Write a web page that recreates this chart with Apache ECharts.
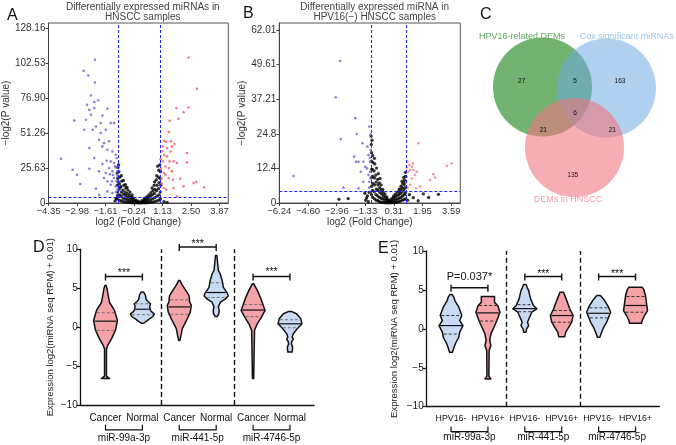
<!DOCTYPE html>
<html><head><meta charset="utf-8">
<script src="https://cdn.jsdelivr.net/npm/echarts@6/dist/echarts.min.js"></script>
<style>html,body{margin:0;padding:0;background:#fff}#c{width:676px;height:445px}</style>
</head><body><div id="c"></div>
<script>
// ---------- Panel A: volcano, HNSCC ----------
const xTicksA = [-4.35, -2.98, -1.61, -0.24, 1.13, 2.50, 3.87];
const xTickLabelsA = ['−4.35', '−2.98', '−1.61', '−0.24', '1.13', '2.50', '3.87'];
const yTicksA = [0, 25.63, 51.26, 76.90, 102.53, 128.16];
const yTickLabelsA = ['0', '25.63', '51.26', '76.90', '102.53', '128.16'];
const downA = [[-2.12,105],[-2.66,96.9],[-2.44,93.5],[-2.12,88.4],[-3.11,60.5],[-2.31,78.8],[-1.96,75.4],[-2.50,72.0],[-2.15,74.0],[-2.39,68.3],[-2.15,69.6],[-1.52,69.1],[-1.76,64.2],[-1.36,58.6],[-1.20,58.6],[-2.23,53.7],[-2.07,56.1],[-1.84,51.3],[-1.60,53.7],[-1.92,46.4],[-1.68,43.9],[-1.44,45.2],[-1.76,41.5],[-1.52,39.0],[-1.28,37.8],[-1.12,35.4],[-2.15,33.0],[-2.39,40.3],[-3.75,32.5],[-3.19,24.4],[-2.98,20.7],[-2.82,13.9],[-2.07,10.5],[-2.39,25.1],[-1.92,23.2],[-1.76,28.6],[-1.55,31.0],[-1.36,30.5],[-1.20,29.3],[-1.44,25.6],[-1.28,23.2],[-1.12,26.1],[-1.68,18.3],[-1.52,15.9],[-1.36,13.4],[-1.20,18.3],[-1.12,12.2],[-1.07,33.0],[-1.04,23.2],[-1.92,6.1],[-1.52,8.5],[-1.28,7.3],[-2.55,61.0],[-2.31,64.7],[-2.63,53.7],[-1.84,58.6],[-1.05,20],[-1.08,16],[-1.03,10],[-1.1,8],[-1.15,27],[-1.25,20.5],[-1.4,21],[-1.6,22],[-1.3,16]];
const upA = [[2.38,106.7],[2.78,83.7],[2.38,70.0],[2.14,66.6],[1.79,69.6],[1.47,60.3],[1.90,61.8],[1.43,52.0],[1.22,45.6],[1.31,44.7],[1.54,45.2],[1.70,43.2],[1.15,41.5],[1.35,40.3],[1.51,37.8],[1.58,41.5],[1.22,35.4],[1.35,34.2],[1.47,30.5],[1.66,30.5],[1.82,29.3],[1.15,30.5],[1.27,26.8],[1.43,25.6],[1.58,23.2],[2.30,36.6],[2.30,29.8],[1.27,20.7],[1.43,18.3],[1.63,17.1],[1.98,17.8],[2.62,14.6],[2.75,15.4],[3.13,11.5],[2.14,12.2],[1.66,11.0],[1.31,9.8],[1.19,11.0],[1.82,4.9],[1.05,25],[1.08,18],[1.1,14],[1.04,32],[1.12,38],[1.2,22]];
const nsA = [[-1.05,3],[-1.03,8],[-1.04,13],[-1.02,18],[-1.05,22],[-1.01,26],[-1.03,5.5],[-1.0,15.5],
[-0.95,2],[-0.93,6],[-0.96,10],[-0.94,14],[-0.92,19],[-0.97,23],[-0.9,11.5],
[-0.85,1.5],[-0.86,5],[-0.84,8],[-0.87,12],[-0.83,16],[-0.85,20],
[-0.75,1],[-0.76,3.5],[-0.74,6.5],[-0.77,9.5],[-0.73,13],[-0.75,16.5],
[-0.65,0.8],[-0.66,3],[-0.64,5.5],[-0.67,8],[-0.63,11],[-0.65,13.5],
[-0.55,0.5],[-0.56,2.5],[-0.54,4.5],[-0.57,7],[-0.53,9.5],[-0.58,11.5],
[-0.45,0.4],[-0.46,2],[-0.44,4],[-0.47,6],[-0.43,8],
[-0.35,0.2],[-0.36,1.5],[-0.34,3],[-0.37,4.5],[-0.33,6],
[-0.25,0.1],[-0.26,1.2],[-0.24,2.5],[-0.27,3.8],
[-0.15,0.1],[-0.16,1],[-0.14,2],
[-0.05,0.05],[-0.06,0.7],[-0.04,1.3],
[0.05,0.05],[0.06,0.6],
[0.15,0.1],[0.16,0.9],[0.14,1.7],
[0.25,0.1],[0.26,1.2],[0.24,2.5],[0.27,3.5],
[0.35,0.2],[0.36,1.5],[0.34,3],[0.37,4.5],
[0.45,0.3],[0.46,2],[0.44,4],[0.47,6],
[0.55,0.5],[0.56,2.5],[0.54,5],[0.57,7.5],
[0.65,0.7],[0.66,3],[0.64,6],[0.67,9],[0.63,11],
[0.75,1],[0.76,4],[0.74,7],[0.77,10],[0.73,13],[0.75,15.5],
[0.85,1.5],[0.86,5],[0.84,9],[0.87,13],[0.83,17],[0.85,20],
[0.95,2],[0.96,6],[0.94,10.5],[0.97,15],[0.93,19],[0.95,24],
[1.03,3],[1.02,8],[1.04,13],[1.01,18],[1.03,23],[1.0,28],
[1.2,1],[1.35,0.5],[-1.15,1.5],[-1.1,3.5],[0.9,27],[-0.98,28]];

// ---------- Panel B: volcano, HPV16(-) ----------
const xTicksB = [-6.24, -4.60, -2.96, -1.33, 0.31, 1.95, 3.59];
const xTickLabelsB = ['−6.24', '−4.60', '−2.96', '−1.33', '0.31', '1.95', '3.59'];
const yTicksB = [0, 12.4, 24.8, 37.21, 49.61, 62.01];
const yTickLabelsB = ['0', '12.4', '24.8', '37.21', '49.61', '62.01'];
const downB = [[-2.76,50.9],[-3.01,37.9],[-2.72,22.9],[-1.89,30.4],[-1.81,24.7],[-1.49,21.4],[-1.09,27.4],[-5.43,9.7],[-1.96,16.6],[-1.85,14.8],[-1.71,14.8],[-1.43,14.8],[-1.33,13.0],[-1.23,12.4],[-1.14,17.2],[-1.20,20.2],[-1.58,11.2],[-2.57,5.5],[-1.71,5.3],[-1.14,10.0],[-1.09,7.6],[-1.43,7.6],[-1.05,11.2],[-1.05,14.8],[-1.01,19.0],[-1.03,24.5],[-1.06,16.2],[-1.1,5.5],[-1.02,9]];
const upB = [[1.71,21.4],[1.09,14.8],[1.20,13.6],[1.34,13.0],[1.05,12.7],[1.39,14.2],[1.14,11.2],[1.24,11.8],[1.43,11.8],[1.62,11.2],[1.53,10.0],[1.05,9.4],[1.34,8.8],[2.57,10.3],[2.67,9.1],[2.38,8.2],[1.24,6.5],[1.81,5.9],[1.58,5.3],[3.34,13.3],[3.62,14.2],[1.02,7.5],[1.1,5.5]];
const nsB = [[-0.97,3],[-0.96,6],[-0.98,9],[-0.95,12],[-0.97,15],[-0.96,18],[-0.98,21],
[-0.9,2],[-0.91,4.5],[-0.89,7],[-0.9,9.5],[-0.92,12],[-0.88,14.5],[-0.9,17],
[-0.8,1.5],[-0.81,4],[-0.79,6.5],[-0.8,9],[-0.82,11.5],[-0.78,14],[-0.8,16],
[-0.7,1],[-0.71,3],[-0.69,5],[-0.7,7.5],[-0.72,10],[-0.68,12.5],
[-0.6,0.8],[-0.61,2.5],[-0.59,4.5],[-0.6,6.5],[-0.62,8.5],[-0.58,10.5],
[-0.5,0.5],[-0.51,2],[-0.49,3.8],[-0.5,5.5],[-0.52,7.2],[-0.48,8.8],
[-0.4,0.3],[-0.41,1.7],[-0.39,3.2],[-0.4,4.8],[-0.42,6.5],
[-0.3,0.2],[-0.31,1.4],[-0.29,2.6],[-0.3,3.8],[-0.32,4.8],
[-0.2,0.1],[-0.21,1.1],[-0.19,2.1],[-0.2,3.2],
[-0.1,0.05],[-0.11,0.8],[-0.09,1.6],[-0.1,2.2],
[0,0.05],[0.01,0.6],[-0.01,1.1],
[0.1,0.05],[0.11,0.6],[0.09,1.0],
[0.2,0.1],[0.21,0.8],[0.19,1.6],
[0.3,0.1],[0.31,1.0],[0.29,1.9],[0.3,2.5],
[0.4,0.2],[0.41,1.2],[0.39,2.2],[0.4,3.2],
[0.5,0.3],[0.51,1.4],[0.49,2.6],[0.5,3.9],
[0.6,0.5],[0.61,1.7],[0.59,3],[0.6,4.2],[0.62,5],
[0.7,0.7],[0.71,2],[0.69,3.4],[0.7,4.8],[0.72,6],
[0.8,1],[0.81,2.5],[0.79,4],[0.8,5.5],[0.82,7],[0.78,7.8],
[0.9,1.2],[0.91,3],[0.89,4.8],[0.9,6.6],[0.92,8.2],[0.88,9.2],
[0.97,1.5],[0.96,3.5],[0.98,5.5],[0.97,7.5],[0.96,9.5],[0.98,11],
[-0.99,24],[-0.94,22.5],
[-1.3,1],[-1.2,2.5],[-1.35,3.5],[-1.15,0.5],[-1.25,1.8],[-1.1,3.8],[-2.83,1.3],[-2.3,1.6],
[1.42,1.9],[2.0,3.3],[2.86,3.1],[1.7,0.8],[2.3,2],[1.2,3],[1.1,1]];
const fcCut = 1;
const pCut = 4.32;

// ---------- Panel C: Venn ----------
const vennSets = ['HPV16-related DEMs', 'Cox significant miRNAs', 'DEMs in HNSCC'];
// regions: HPV only, HPV∩Cox, Cox only, all three, HPV∩HNSCC, Cox∩HNSCC, HNSCC only
const vennCounts = [27, 5, 163, 6, 21, 21, 135];

// ---------- Panel D: violins, Cancer vs Normal ----------
const dCats = ['Cancer', 'Normal', 'Cancer', 'Normal', 'Cancer', 'Normal'];
const dGroups = ['miR-99a-3p', 'miR-441-5p', 'miR-4746-5p'];
const dSig = ['***', '***', '***'];
// density outline per violin: [value, relative half-width]
const dProfiles = [
  [[-6.6,0.35],[-6.3,0.08],[-2.8,0.08],[-2.3,0.2],[-1.5,0.5],[-0.4,0.83],[0.86,1.0],[2.15,0.75],[3.2,0.33],[4.3,0.2],[5.0,0.12],[5.36,0.05]],
  [[0.5,0.1],[0.9,0.45],[1.4,0.9],[1.7,1.0],[2.0,0.75],[2.3,0.62],[2.7,0.62],[3.0,0.68],[3.3,0.45],[3.6,0.3],[4.1,0.25],[4.5,0.1]],
  [[-1.7,0.05],[-1.0,0.15],[-0.2,0.25],[0.86,0.6],[1.93,0.92],[2.79,1.0],[3.3,0.85],[3.65,0.85],[4.07,0.8],[4.7,0.55],[5.4,0.25],[6.0,0.05]],
  [[1.37,0.08],[1.7,0.22],[2.15,0.25],[2.6,0.18],[3.2,0.35],[3.6,0.75],[4.0,1.0],[4.3,0.95],[5.1,0.6],[6.0,0.5],[6.86,0.33],[7.3,0.18],[8.2,0.12],[9.2,0.06]],
  [[-6.6,0.05],[-0.4,0.12],[0.43,0.35],[1.29,0.7],[2.15,1.0],[3.0,0.8],[3.86,0.6],[4.72,0.35],[5.58,0.05]],
  [[-3.2,0.18],[-2.57,0.22],[-2.2,0.12],[-1.93,0.13],[-1.5,0.28],[-1.29,0.18],[-0.86,0.27],[-0.21,0.6],[0.43,1.0],[1.07,0.9],[1.72,0.55],[2.02,0.1]]
];
// [lower quartile, median, upper quartile]
const dStats = [[-0.42,0.77,1.85],[1.6,2.3,3.0],[1.65,2.6,3.5],[3.8,4.45,5.7],[1.35,2.2,2.9],[-0.08,0.43,0.95]];

// ---------- Panel E: violins, HPV16- vs HPV16+ ----------
const eCats = ['HPV16-', 'HPV16+', 'HPV16-', 'HPV16+', 'HPV16-', 'HPV16+'];
const eGroups = ['miR-99a-3p', 'miR-441-5p', 'miR-4746-5p'];
const eSig = ['P=0.037*', '***', '***'];
const eProfiles = [
  [[-3.0,0.12],[-2.36,0.25],[-1.72,0.42],[-1.08,0.65],[-0.43,0.72],[0.42,1.0],[1.07,0.72],[1.71,0.9],[2.78,0.65],[3.64,0.32],[4.0,0.25],[4.41,0.1]],
  [[-6.43,0.25],[-6.1,0.08],[-2.79,0.1],[-2.14,0.25],[-1.5,0.15],[-0.64,0.25],[0.2,0.5],[1.07,0.75],[2.14,1.0],[3.0,0.82],[3.4,0.55],[3.7,0.55],[4.15,0.55]],
  [[-0.43,0.1],[0,0.15],[0.42,0.32],[0.85,0.22],[1.49,0.4],[2.14,0.58],[2.57,1.0],[3.0,0.72],[3.85,0.48],[4.92,0.32],[5.3,0.2],[5.69,0.1]],
  [[-1.0,0.25],[-0.43,0.33],[0.2,0.58],[0.85,0.83],[1.71,0.95],[2.57,0.67],[3.64,0.42],[4.3,0.25],[4.7,0.15]],
  [[-1.08,0.1],[-0.43,0.25],[0.2,0.42],[0.85,0.67],[1.49,0.83],[2.14,1.0],[2.78,0.83],[3.64,0.5],[4.28,0.15]],
  [[0.72,0.5],[1.07,0.55],[1.71,0.75],[2.35,1.0],[3.21,0.92],[4.28,0.83],[5.0,0.7],[5.35,0.55]]
];
const eStats = [[-0.67,0.42,1.71],[1.0,2.05,3.0],[2.2,2.6,3.1],[0.85,1.71,2.35],[1.41,2.0,2.7],[2.14,3.0,4.15]];

// ================= rendering =================
const FONT = '"Liberation Sans", Arial, Helvetica, sans-serif';
const PINK = '#f4a3a8', BLUE = '#c9dbf4';
const lab = (vals, labels) => v => { const i = vals.findIndex(t => Math.abs(t - v) < 1e-6); return i >= 0 ? labels[i] : ''; };
const minus = v => String(v).replace('-', '−');

function volcanoAxes(grid, xmin, xmax, xt, xl, ymax, yt, yl, nameGapY) {
  const axisCol = '#444';
  return {
    x: { type: 'value', gridIndex: grid, min: xmin, max: xmax, name: 'log2 (Fold Change)', nameLocation: 'middle', nameGap: 13,
         nameTextStyle: { fontFamily: FONT, fontSize: 10, color: '#333' },
         axisLine: { show: true, onZero: false, lineStyle: { color: axisCol, width: 1 } },
         axisTick: { show: true, length: 3, customValues: xt, lineStyle: { color: axisCol } },
         axisLabel: { customValues: xt, formatter: lab(xt, xl), fontFamily: FONT, fontSize: 9.5, color: '#333', margin: 3 },
         splitLine: { show: false } },
    y: { type: 'value', gridIndex: grid, min: 0, max: ymax, name: '−log2(P value)', nameLocation: 'middle', nameGap: nameGapY,
         nameTextStyle: { fontFamily: FONT, fontSize: 10, color: '#333' },
         axisLine: { show: true, onZero: false, lineStyle: { color: axisCol, width: 1 } },
         axisTick: { show: true, length: 3, customValues: yt, lineStyle: { color: axisCol } },
         axisLabel: { customValues: yt, formatter: lab(yt, yl), fontFamily: FONT, fontSize: 10, color: '#333', margin: 3 },
         splitLine: { show: false } }
  };
}
const vA = volcanoAxes(0, -4.35, 4.29, xTicksA, xTickLabelsA, 132, yTicksA, yTickLabelsA, 25);
const vB = volcanoAxes(1, -6.24, 4.11, xTicksB, xTickLabelsB, 64.5, yTicksB, yTickLabelsB, 20);

function violinAxes(grid, xmin, xmax, cats, groups, nameGap, catMargin, grpMargin, catFont) {
  const cv = cats.map((c, i) => i + 1);
  const gv = groups.map((g, i) => 2 * i + 1.5);
  return {
    x: { type: 'value', gridIndex: grid, min: xmin, max: xmax, position: 'bottom',
         axisLine: { show: true, onZero: false, lineStyle: { color: '#111', width: 1.3 } },
         axisTick: { show: false },
         axisLabel: { customValues: cv, formatter: lab(cv, cats), fontFamily: FONT, fontSize: catFont, color: '#111', margin: catMargin, hideOverlap: false },
         splitLine: { show: false } },
    x2: { type: 'value', gridIndex: grid, min: xmin, max: xmax, position: 'bottom', offset: 0,
         axisLine: { show: false, onZero: false }, axisTick: { show: false },
         axisLabel: { customValues: gv, formatter: lab(gv, groups), fontFamily: FONT, fontSize: 10, color: '#111', margin: grpMargin },
         splitLine: { show: false } },
    y: { type: 'value', gridIndex: grid, min: -10, max: 10, interval: 5,
         name: 'Expression log2(miRNA seq RPM) + 0.01)', nameLocation: 'middle', nameGap: nameGap,
         nameTextStyle: { fontFamily: FONT, fontSize: 9.5, color: '#222' },
         axisLine: { show: true, onZero: false, lineStyle: { color: '#111', width: 1.3 } },
         axisTick: { show: true, length: 4, lineStyle: { color: '#111', width: 1.2 } },
         axisLabel: { formatter: minus, fontFamily: FONT, fontSize: 10, color: '#222', margin: 3 },
         splitLine: { show: false } }
  };
}
const aD = violinAxes(2, 0.328, 6.651, dCats, dGroups, 25, 8, 28, 10);
const aE = violinAxes(3, 0.341, 6.644, eCats, eGroups, 27, 7, 26, 8.8);

function interp(prof, y) {
  if (y <= prof[0][0]) return prof[0][1];
  for (let k = 1; k < prof.length; k++) {
    if (y <= prof[k][0]) { const [y0, d0] = prof[k - 1], [y1, d1] = prof[k]; return d0 + (d1 - d0) * (y - y0) / (y1 - y0); }
  }
  return prof[prof.length - 1][1];
}
const W = 0.325;
function violinRender(profiles, stats, fills, dashCol) {
  return (params, api) => {
    const x = api.value(0), i = api.value(1);
    const prof = profiles[i];
    const right = prof.map(([y, d]) => api.coord([x + d * W, y]));
    const left = prof.slice().reverse().map(([y, d]) => api.coord([x - d * W, y]));
    const children = [{ type: 'polygon', shape: { points: right.concat(left) },
      style: { fill: fills[i], stroke: '#111', lineWidth: 1.5, lineJoin: 'round' } }];
    const [q1, med, q3] = stats[i];
    [[q1, true], [med, false], [q3, true]].forEach(([y, dash]) => {
      const d = interp(prof, y);
      const p1 = api.coord([x - d * W, y]), p2 = api.coord([x + d * W, y]);
      children.push({ type: 'line', shape: { x1: p1[0] + 1, y1: p1[1], x2: p2[0] - 1, y2: p2[1] },
        style: { stroke: dash ? dashCol : '#111', lineWidth: dash ? 0.9 : 1.2, lineDash: dash ? [3, 2] : null } });
    });
    return { type: 'group', children };
  };
}
// annotation layout (positions in data units of the violin axes)
function annotRender(sigs, barY, textY) {
  return (params, api) => {
    const g = api.value(0);
    const xa = 2 * g + 1, xb = 2 * g + 2;
    const st = { stroke: '#111', lineWidth: 1.4 };
    const pa = api.coord([xa, barY[g]]), pb = api.coord([xb, barY[g]]);
    const up = 3, dn = 4;
    const ch = [
      { type: 'line', shape: { x1: pa[0], y1: pa[1], x2: pb[0], y2: pb[1] }, style: st },
      { type: 'line', shape: { x1: pa[0], y1: pa[1] - up, x2: pa[0], y2: pa[1] + dn }, style: st },
      { type: 'line', shape: { x1: pb[0], y1: pb[1] - up, x2: pb[0], y2: pb[1] + dn }, style: st }
    ];
    const pt = api.coord([(xa + xb) / 2, textY[g]]);
    ch.push({ type: 'text', x: pt[0], y: pt[1], style: { text: sigs[g], fontFamily: FONT, fontSize: sigs[g].length > 3 ? 11 : 10.5, fill: '#111', align: 'center', verticalAlign: 'middle' } });
    // bracket under the category pair
    const u1 = api.coord([xa, -12.55]), u2 = api.coord([xa, -13.2]), u3 = api.coord([xb, -13.2]), u4 = api.coord([xb, -12.55]);
    ch.push({ type: 'polyline', shape: { points: [u1, u2, u3, u4] }, style: { stroke: '#111', lineWidth: 1.2, fill: null } });
    return { type: 'group', children: ch };
  };
}

// Venn layout (in the hidden 216x210 frame of panel C)
const vennCircles = [[82.5, 87], [146.5, 88], [114.5, 147.5]];
const vennR = 49.5;
const vennFill = ['rgba(60,150,60,0.72)', 'rgba(110,170,225,0.55)', 'rgba(240,118,128,0.6)'];
const vennLabelCol = ['#5aa85a', '#9fc3e6', '#f29ea6'];
const vennLabelPos = [[62, 36.7], [166.7, 36.7], [108, 200]];
const vennCountPos = [[61.7, 81.7], [115, 81.7], [160, 81.7], [115, 113.3], [83.3, 130.7], [152.3, 130.7], [112.7, 175.7]];

const sep = { silent: true, symbol: 'none', label: { show: false },
  lineStyle: { color: '#111', type: [5, 3], width: 1.4 }, data: [{ xAxis: 2.5 }, { xAxis: 4.5 }] };
const thr = { silent: true, symbol: 'none', label: { show: false },
  lineStyle: { color: '#2222ff', type: [3, 2], width: 1 }, data: [{ xAxis: -fcCut }, { xAxis: fcCut }, { yAxis: pCut }] };

const titleTS = { fontFamily: FONT, fontSize: 10, fontWeight: 'normal', color: '#444', lineHeight: 10 };
const letterTS = { fontFamily: FONT, fontSize: 16, fontWeight: 'normal', color: '#111' };

const option = {
  animation: false,
  title: [
    { text: 'A', left: 2, top: 3, textStyle: letterTS },
    { text: 'B', left: 238, top: 1, textStyle: letterTS },
    { text: 'C', left: 475, top: 2, textStyle: letterTS },
    { text: 'D', left: 28, top: 235, textStyle: letterTS },
    { text: 'E', left: 373, top: 236, textStyle: letterTS },
    { text: 'Differentially expressed miRNAs in\nHNSCC samples', left: 137.8, top: -3, textAlign: 'center', textStyle: titleTS },
    { text: 'Differentially expressed miRNA in\nHPV16(−) HNSCC samples', left: 369.7, top: -3, textAlign: 'center', textStyle: titleTS }
  ],
  grid: [
    { left: 47.3, top: 23, width: 181, height: 180, show: true, borderColor: '#555', borderWidth: 1, backgroundColor: 'transparent' },
    { left: 279.3, top: 23, width: 181, height: 180, show: true, borderColor: '#555', borderWidth: 1, backgroundColor: 'transparent' },
    { left: 80.7, top: 249.3, width: 233.3, height: 155.7 },
    { left: 426.7, top: 251, width: 232.6, height: 155.7 },
    { left: 460, top: 0, width: 216, height: 210 }
  ],
  xAxis: [vA.x, vB.x, aD.x, aD.x2, aE.x, aE.x2,
    { type: 'value', gridIndex: 4, min: 0, max: 216, show: false }],
  yAxis: [vA.y, vB.y, aD.y, aE.y,
    { type: 'value', gridIndex: 4, min: 0, max: 210, inverse: true, show: false }],
  series: [
    { type: 'scatter', xAxisIndex: 0, yAxisIndex: 0, data: nsA, symbolSize: 3.3, itemStyle: { color: '#000' }, z: 2 },
    { type: 'scatter', xAxisIndex: 0, yAxisIndex: 0, data: downA, symbolSize: 2.6, itemStyle: { color: '#6a62c9' } },
    { type: 'scatter', xAxisIndex: 0, yAxisIndex: 0, data: upA, symbolSize: 2.6, itemStyle: { color: '#ec5b70' }, markLine: thr },
    { type: 'scatter', xAxisIndex: 1, yAxisIndex: 1, data: nsB, symbolSize: 3.3, itemStyle: { color: '#000' }, z: 2 },
    { type: 'scatter', xAxisIndex: 1, yAxisIndex: 1, data: downB, symbolSize: 2.6, itemStyle: { color: '#6a62c9' } },
    { type: 'scatter', xAxisIndex: 1, yAxisIndex: 1, data: upB, symbolSize: 2.6, itemStyle: { color: '#f07a8a' }, markLine: thr },
    // Panel D
    { type: 'custom', xAxisIndex: 2, yAxisIndex: 2, data: dCats.map((c, i) => [i + 1, i]),
      renderItem: violinRender(dProfiles, dStats, dCats.map((c, i) => i % 2 ? BLUE : PINK), '#666'), markLine: sep },
    { type: 'custom', xAxisIndex: 2, yAxisIndex: 2, clip: false, data: dGroups.map((g, i) => [i]),
      renderItem: annotRender(dSig, [6.5, 10.3, 6.5], [6.97, 10.73, 7.06]) },
    // Panel E
    { type: 'custom', xAxisIndex: 4, yAxisIndex: 3, data: eCats.map((c, i) => [i + 1, i]),
      renderItem: violinRender(eProfiles, eStats, eCats.map((c, i) => i % 2 ? PINK : BLUE), '#222'), markLine: sep },
    { type: 'custom', xAxisIndex: 4, yAxisIndex: 3, clip: false, data: eGroups.map((g, i) => [i]),
      renderItem: annotRender(eSig, [5.27, 6.72, 6.72], [6.63, 7.08, 7.08]) },
    // Panel C: Venn circles
    { type: 'custom', xAxisIndex: 6, yAxisIndex: 4, data: vennSets.map((s, i) => [i]),
      renderItem: (params, api) => {
        const i = api.value(0);
        const c = api.coord(vennCircles[i]);
        const r = api.size([vennR, 0])[0];
        const lp = api.coord(vennLabelPos[i]);
        return { type: 'group', children: [
          { type: 'circle', shape: { cx: c[0], cy: c[1], r: r }, style: { fill: vennFill[i] } },
          { type: 'text', x: lp[0], y: lp[1], z2: 10, style: { text: vennSets[i], fontFamily: FONT, fontSize: 9, fill: vennLabelCol[i], align: 'center', verticalAlign: 'middle' } }
        ] };
      } },
    { type: 'custom', xAxisIndex: 6, yAxisIndex: 4, z: 5, data: vennCounts.map((v, i) => [i]),
      renderItem: (params, api) => {
        const i = api.value(0);
        const p = api.coord(vennCountPos[i]);
        return { type: 'text', x: p[0], y: p[1], style: { text: String(vennCounts[i]), fontFamily: FONT, fontSize: 6.5, fill: '#111', align: 'center', verticalAlign: 'middle' } };
      } }
  ]
};
const chart = echarts.init(document.getElementById('c'), null, { renderer: 'canvas' });
chart.setOption(option);
</script>
</body></html>
